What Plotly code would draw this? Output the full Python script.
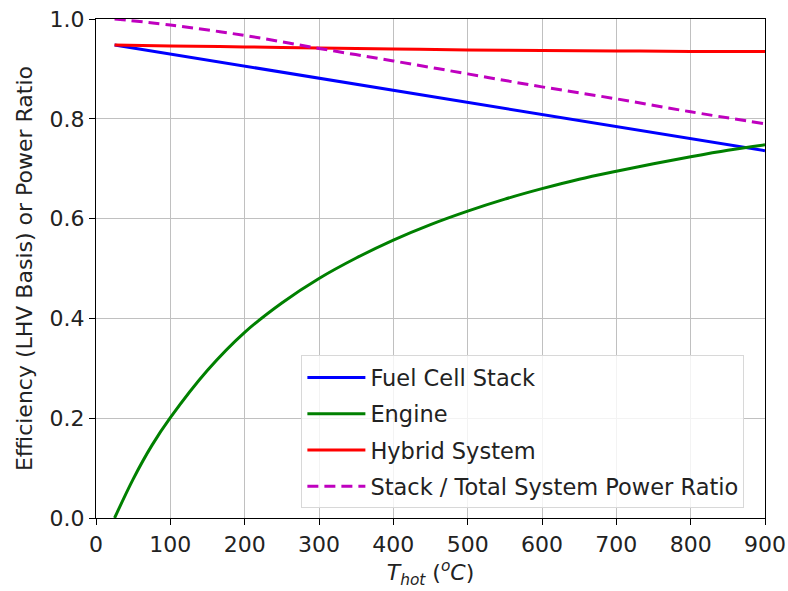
import plotly.graph_objects as go

# Temperature (°C)
t_line = [25, 900]
stack_eff = [0.948, 0.736]

t_curve = [25, 50, 75, 100, 150, 200, 250, 300, 350, 400, 450, 500, 550, 600, 650, 700, 750, 800, 850, 900]
engine_eff = [0.0, 0.078, 0.145, 0.201, 0.296, 0.372, 0.431, 0.480, 0.521, 0.557, 0.588, 0.615, 0.639, 0.660, 0.679, 0.695, 0.710, 0.724, 0.737, 0.748]

t_hyb = [25, 100, 200, 300, 400, 500, 600, 700, 800, 900]
hybrid_eff = [0.948, 0.946, 0.944, 0.942, 0.940, 0.938, 0.937, 0.936, 0.935, 0.935]
power_ratio = [1.0, 0.988, 0.967, 0.941, 0.916, 0.890, 0.864, 0.840, 0.814, 0.790]

names = ["Fuel Cell Stack", "Engine", "Hybrid System", "Stack / Total System Power Ratio"]
colors = ["#0000ff", "#008000", "#ff0000", "#bf00bf"]

FONT = "DejaVu Sans"
FS = 22

fig = go.Figure()
fig.add_trace(go.Scatter(x=t_line, y=stack_eff, mode="lines", name=names[0], legendgroup="a",
                         line=dict(color=colors[0], width=3)))
fig.add_trace(go.Scatter(x=t_curve, y=engine_eff, mode="lines", name=names[1], legendgroup="b",
                         line=dict(color=colors[1], width=3, shape="spline")))
fig.add_trace(go.Scatter(x=t_hyb, y=hybrid_eff, mode="lines", name=names[2], legendgroup="c",
                         line=dict(color=colors[2], width=3, shape="spline")))
fig.add_trace(go.Scatter(x=t_hyb, y=power_ratio, mode="lines", name=names[3], legendgroup="d",
                         line=dict(color=colors[3], width=3, dash="11px,6px", shape="spline")))

axis_common = dict(showline=True, linecolor="black", linewidth=1.3, mirror=True,
                   ticks="outside", tickcolor="black", ticklen=6, tickwidth=1.2,
                   showgrid=True, gridcolor="#c0c0c0", gridwidth=1, zeroline=False,
                   automargin=False,
                   tickfont=dict(family=FONT, size=FS, color="#222"))

fig.update_layout(
    width=788, height=591,
    margin=dict(l=96, r=23, t=19, b=73),
    paper_bgcolor="white", plot_bgcolor="white",
    font=dict(family=FONT, size=FS, color="#222"),
    xaxis=dict(range=[0, 900], tickvals=[0, 100, 200, 300, 400, 500, 600, 700, 800, 900],
               title=dict(text="<i>T</i><sub><i>hot</i></sub> (<sup><i>o</i></sup><i>C</i>)", standoff=9,
                          font=dict(family=FONT, size=FS)),
               **axis_common),
    yaxis=dict(range=[0, 1], tickvals=[0, 0.2, 0.4, 0.6, 0.8, 1.0], tickformat=".1f",
               title=dict(text="Efficiency (LHV Basis) or Power Ratio", standoff=10,
                          font=dict(family=FONT, size=FS)),
               **axis_common),
    legend=dict(x=0.307, y=0.326, xanchor="left", yanchor="top",
                bgcolor="rgba(255,255,255,0.8)", bordercolor="#d8d8d8", borderwidth=1,
                tracegroupgap=4, font=dict(family=FONT, size=22.5, color="#222"),
                itemwidth=58),
    showlegend=True,
)

fig.write_html("out.html", config={"displayModeBar": False},
               post_script="document.body.style.margin='0';document.body.style.overflow='hidden';")
